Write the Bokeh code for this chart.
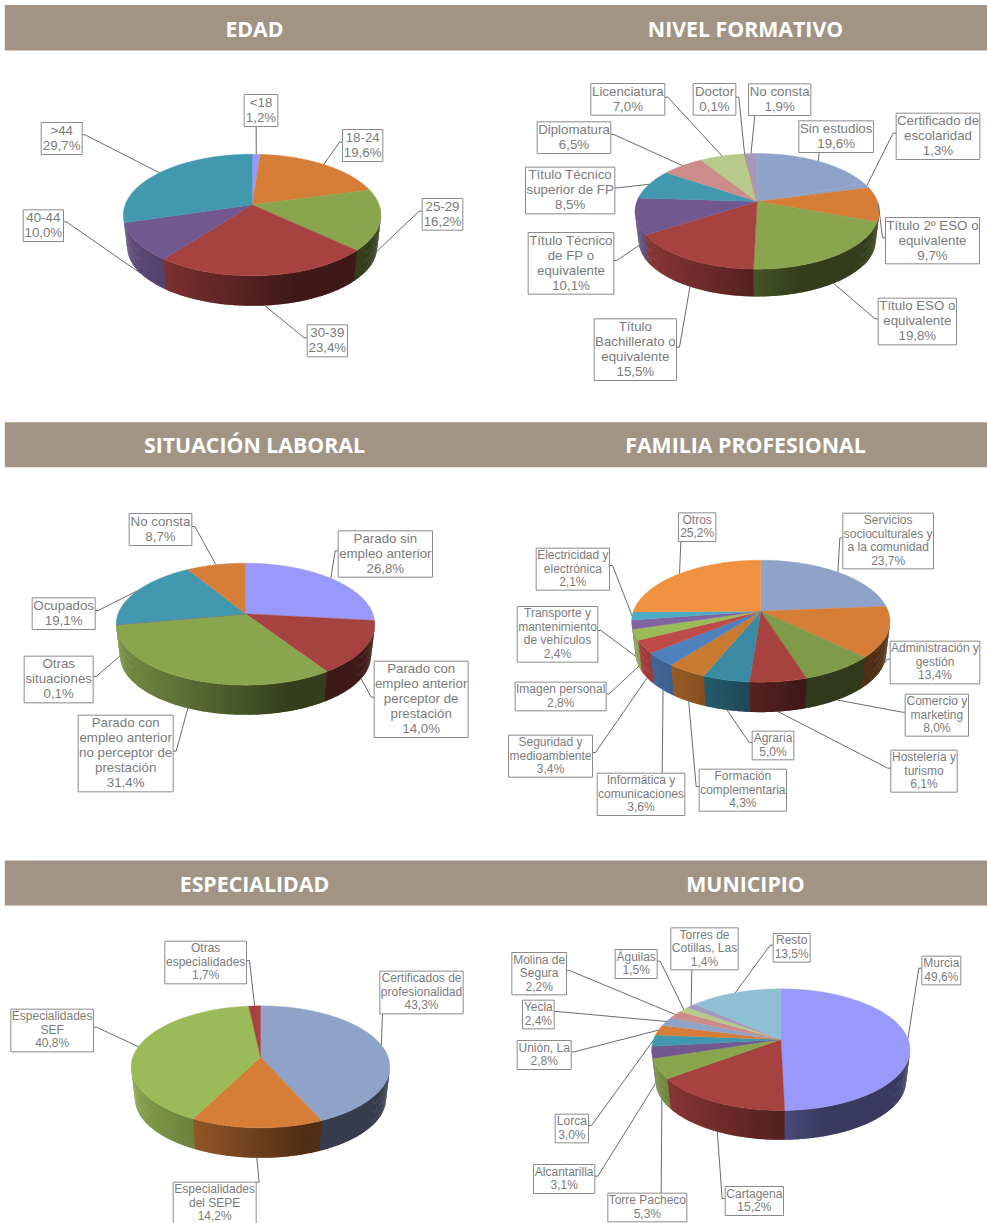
import math
from bokeh.plotting import figure
from bokeh.models import Range1d
from bokeh.core.properties import value
from bokeh.embed import file_html
from bokeh.resources import INLINE

# ---------- data ----------
edad_labels = ["<18", "18-24", "25-29", "30-39", "40-44", ">44"]
edad_values = [1.2, 19.6, 16.2, 23.4, 10.0, 29.7]

nivel_labels = ["Sin estudios", "Certificado de\nescolaridad", "Título 2º ESO o\nequivalente",
                "Título ESO o\nequivalente", "Título\nBachillerato o\nequivalente",
                "Título Técnico\nde FP o\nequivalente", "Título Técnico\nsuperior de FP",
                "Diplomatura", "Licenciatura", "Doctor", "No consta"]
nivel_values = [19.6, 1.3, 9.7, 19.8, 15.5, 10.1, 8.5, 6.5, 7.0, 0.1, 1.9]

situacion_labels = ["Parado sin\nempleo anterior", "Parado con\nempleo anterior\nperceptor de\nprestación",
                    "Parado con\nempleo anterior\nno perceptor de\nprestación", "Otras\nsituaciones",
                    "Ocupados", "No consta"]
situacion_values = [26.8, 14.0, 31.4, 0.1, 19.1, 8.7]

familia_labels = ["Servicios\nsocioculturales y\na la comunidad", "Administración y\ngestión",
                  "Comercio y\nmarketing", "Hostelería y\nturismo", "Agraria",
                  "Formación\ncomplementaria", "Informática y\ncomunicaciones",
                  "Seguridad y\nmedioambiente", "Imagen personal",
                  "Transporte y\nmantenimiento\nde vehículos", "Electricidad y\nelectrónica", "Otros"]
familia_values = [23.7, 13.4, 8.0, 6.1, 5.0, 4.3, 3.6, 3.4, 2.8, 2.4, 2.1, 25.2]

especialidad_labels = ["Certificados de\nprofesionalidad", "Especialidades\ndel SEPE",
                       "Especialidades\nSEF", "Otras\nespecialidades"]
especialidad_values = [43.3, 14.2, 40.8, 1.7]

municipio_labels = ["Murcia", "Cartagena", "Torre Pacheco", "Alcantarilla", "Lorca", "Unión, La",
                    "Yecla", "Molina de\nSegura", "Águilas", "Torres de\nCotillas, Las", "Resto"]
municipio_values = [49.6, 15.2, 5.3, 3.1, 3.0, 2.8, 2.4, 2.2, 1.5, 1.4, 13.5]

titles = ["EDAD", "NIVEL FORMATIVO", "SITUACIÓN LABORAL", "FAMILIA PROFESIONAL", "ESPECIALIDAD", "MUNICIPIO"]

# ---------- styles ----------
LAV, ORG, GRN, RED, PUR, TEA = "#9999FA", "#D67D38", "#89A54E", "#A64240", "#71588F", "#4198AF"
BLU, PNK, LGR, LLV = "#8FA3C8", "#CC8C8A", "#B7CA8C", "#A598BD"
edad_colors = [LAV, ORG, GRN, RED, PUR, TEA]
nivel_colors = [BLU, BLU, ORG, GRN, RED, PUR, TEA, PNK, LGR, "#C0604D", LLV]
situacion_colors = [LAV, RED, GRN, PUR, TEA, ORG]
familia_colors = [BLU, ORG, "#7F9A48", RED, "#3A8AA3", "#C97A32", "#4F81BD", "#BE4B48", "#9BBB59",
                  "#8064A2", "#4BACC6", "#F0923F"]
especialidad_colors = [BLU, ORG, "#9BBB59", RED]
municipio_colors = [LAV, RED, GRN, PUR, TEA, ORG, BLU, PNK, LGR, LLV, "#8FBFD3"]

# ---------- layout (all in 3x crop units relative to panel origin) ----------
# box = (x0, y0, x1, y1), attach = where the leader meets the box
panels = [
    dict(o=(0, 0), apex=(755, 613), top=461, bottom=826, left=368, right=1141, front=916, fs=13.3, ls=15,
         labels=edad_labels, values=edad_values, colors=edad_colors,
         boxes=[(731, 282, 832, 378), (1026, 387, 1147, 483), (1265, 594, 1387, 689),
                (920, 973, 1041, 1069), (68, 628, 189, 723), (122, 366, 245, 462)],
         attach=[(767, 378), (1026, 425), (1265, 632), (920, 1012), (189, 664), (245, 403)]),
    dict(o=(497, 0), apex=(779, 603), top=459, bottom=806, left=413, right=1146, front=888, fs=13.3, ls=15,
         labels=nivel_labels, values=nivel_values, colors=nivel_colors,
         boxes=[(904, 361, 1128, 456), (1196, 338, 1447, 477), (1164, 651, 1446, 790), (1142, 893, 1377, 1033),
                (290, 955, 537, 1140), (92, 696, 349, 881), (84, 500, 352, 640), (119, 364, 340, 459),
                (280, 249, 502, 344), (587, 249, 715, 344), (753, 250, 940, 345)],
         attach=[(965, 456), (1196, 398), (1164, 712), (1142, 955), (537, 1040), (349, 780), (352, 562),
                 (340, 402), (502, 290), (715, 290), (772, 345)]),
    dict(o=(0, 410), apex=(735, 610), top=458, bottom=824, left=347, right=1123, front=913, fs=13.3, ls=15,
         labels=situacion_labels, values=situacion_values, colors=situacion_colors,
         boxes=[(1013, 361, 1296, 500), (1121, 752, 1403, 981), (233, 914, 518, 1144), (71, 737, 278, 877),
                (95, 562, 284, 657), (386, 309, 574, 405)],
         attach=[(1013, 421), (1121, 860), (518, 1022), (278, 798), (284, 600), (574, 348)]),
    dict(o=(497, 410), apex=(790, 602), top=449, bottom=815, left=401, right=1176, front=905, fs=12, ls=13.5,
         labels=familia_labels, values=familia_values, colors=familia_colors,
         boxes=[(1036, 308, 1308, 475), (1178, 692, 1447, 820), (1223, 851, 1413, 977), (1180, 1019, 1379, 1145),
                (764, 962, 889, 1048), (605, 1076, 867, 1202), (299, 1088, 562, 1215), (33, 974, 285, 1100),
                (53, 815, 326, 901), (59, 588, 301, 755), (116, 413, 336, 539), (543, 307, 655, 393)],
         attach=[(1036, 382), (1178, 746), (1223, 905), (1180, 1073), (764, 996), (605, 1128), (494, 1088),
                 (285, 1026), (326, 850), (301, 660), (336, 465), (550, 393)]),
    dict(o=(0, 850), apex=(780, 620), top=466, bottom=832, left=392, right=1168, front=922, fs=12, ls=13.5,
         labels=especialidad_labels, values=especialidad_values, colors=especialidad_colors,
         boxes=[(1138, 362, 1388, 490), (518, 995, 767, 1123), (31, 476, 279, 604), (493, 272, 738, 400)],
         attach=[(1146, 490), (767, 995), (279, 530), (738, 330)]),
    dict(o=(497, 850), apex=(850, 567), top=415, bottom=780, left=462, right=1237, front=868, fs=12, ls=13.5,
         labels=municipio_labels, values=municipio_values, colors=municipio_colors,
         boxes=[(1273, 317, 1390, 403), (683, 1008, 858, 1095), (331, 1028, 568, 1114), (108, 942, 292, 1029),
                (173, 791, 273, 877), (59, 570, 221, 657), (75, 449, 170, 535), (43, 306, 207, 433),
                (353, 297, 479, 384), (520, 232, 722, 358), (827, 249, 938, 335)],
         attach=[(1273, 353), (683, 1044), (491, 1028), (292, 977), (273, 825), (221, 604), (170, 483),
                 (207, 360), (479, 332), (583, 358), (827, 284)]),
]
bands = [(4.5, 50), (421.7, 466.7), (860, 905)]
band_left = 4.3
title_pos = [(254, 27.5), (745, 27.5), (254, 444), (745, 444), (254, 882.5), (745, 882.5)]
BOTTOM_SCALE = 0.97
TEXT = "#7B7B7B"

p = figure(width=987, height=1223, output_backend="svg", toolbar_location=None,
           x_range=Range1d(0, 987), y_range=Range1d(1223, 0), min_border=0,
           x_axis_location=None, y_axis_location=None, outline_line_color=None,
           styles={"position": "absolute", "left": "0px", "top": "0px"})
p.grid.visible = False

# header bands
p.quad(left=[band_left] * 3, right=[987] * 3, top=[b[0] for b in bands], bottom=[b[1] for b in bands],
       fill_color="#A19485", line_color=None)
p.text(x=[t[0] for t in title_pos], y=[t[1] for t in title_pos], text=titles,
       text_color="white", text_font=value("Open Sans"), text_font_style="bold", text_font_size="21.3px",
       text_align="center", text_baseline="middle")


def shade(c, f):
    r, g, b = (int(c[i:i + 2], 16) for i in (1, 3, 5))
    return "#%02x%02x%02x" % (int(r * f), int(g * f), int(b * f))


for pan in panels:
    ox, oy = pan["o"]
    Z = lambda x, y: (ox + x / 3, oy + y / 3)
    ax, ay = Z(*pan["apex"])
    t = (pan["apex"][1] - pan["top"]) / 3
    b = (pan["bottom"] - pan["apex"][1]) / 3
    k = (b - t) / (b + t)
    S = t * (1 + k)
    half = (pan["right"] - pan["left"]) / 6
    R = half * math.sqrt(1 - k * k)
    D = (pan["front"] - pan["bottom"]) / 3 + b * (1 - BOTTOM_SCALE)

    def top_pt(a):
        u, v = math.sin(a), math.cos(a)
        d = 1 + k * v
        return ax + R * u / d, ay - S * v / d

    def bot_pt(a):
        u, v = math.sin(a), math.cos(a)
        d = 1 + k * v
        return ax + BOTTOM_SCALE * R * u / d, ay + D - BOTTOM_SCALE * S * v / d

    total = sum(pan["values"])
    edges = [0.0]
    for val in pan["values"]:
        edges.append(edges[-1] + val / total * 2 * math.pi)

    # side wall: only the front-facing part of the rim, as overlapping shaded strips painted left to right
    vis0 = math.acos(-k)
    vis1 = 2 * math.pi - vis0
    step = math.radians(1.0)
    strips = []
    for i, col in enumerate(pan["colors"]):
        a0, a1 = max(edges[i], vis0), min(edges[i + 1], vis1)
        if a1 <= a0:
            continue
        n = max(1, int((a1 - a0) / step))
        for j in range(n):
            s0 = a0 + (a1 - a0) * j / n
            s1 = a0 + (a1 - a0) * (j + 1) / n
            tt = (top_pt((s0 + s1) / 2)[0] - ax) / half
            f = max(0.38, 0.5 - 0.36 * tt)
            strips.append((s0, s1, shade(col, f), i))
    wx, wy, wc = [], [], []
    for s0, s1, c, i in sorted(strips, key=lambda q: -q[0]):  # left side first; each overlaps its right neighbour
        e0 = s0 - 0.6 * step if s0 - 0.6 * step >= vis0 else s0
        x0, y0 = top_pt(s1); x1, y1 = top_pt(e0)
        x2, y2 = bot_pt(e0); x3, y3 = bot_pt(s1)
        wx.append([x0, x1, x2, x3]); wy.append([y0, y1, y2, y3]); wc.append(c)
    p.patches(wx, wy, fill_color=wc, line_color=None)

    # top face
    fx, fy = [], []
    for i in range(len(pan["values"])):
        a0, a1 = edges[i], edges[i + 1]
        n = max(2, int((a1 - a0) / math.radians(1)))
        pts = [top_pt(a0 + (a1 - a0) * j / n) for j in range(n + 1)]
        fx.append([ax] + [q[0] for q in pts]); fy.append([ay] + [q[1] for q in pts])
    p.patches(fx, fy, fill_color=pan["colors"], line_color=pan["colors"], line_width=0.4)

    # leaders, boxes, text
    lx, ly, ql, qr, qt, qb, tx, ty, ts = [], [], [], [], [], [], [], [], []
    for i, (lab, val) in enumerate(zip(pan["labels"], pan["values"])):
        mid = (edges[i] + edges[i + 1]) / 2
        anchor = bot_pt(mid) if math.cos(mid) < -0.1 else top_pt(mid)
        x0, y0, x1, y1 = pan["boxes"][i]
        ex, ey = pan["attach"][i]
        e = Z(ex, ey)
        path = [anchor]
        if ex == x0:
            path.append((e[0] - 3, e[1]))
        elif ex == x1:
            path.append((e[0] + 3, e[1]))
        path.append(e)
        lx.append([q[0] for q in path]); ly.append([q[1] for q in path])
        bl, bt = Z(x0, y0)
        br, bb = Z(x1, y1)
        ql.append(bl); qr.append(br); qt.append(bt); qb.append(bb)
        lines = lab.split("\n") + [f"{val:.1f}".replace(".", ",") + "%"]
        cy = (bt + bb) / 2 - 0.6
        for n, line in enumerate(lines):
            tx.append((bl + br) / 2)
            ty.append(cy + (n - (len(lines) - 1) / 2) * pan["ls"])
            ts.append(line)
    p.multi_line(lx, ly, line_color="#6A6A6A", line_width=1)
    p.quad(left=ql, right=qr, top=qt, bottom=qb, fill_color="white", line_color="#8A8A8A", line_width=1)
    p.text(x=tx, y=ty, text=ts, text_color=TEXT, text_font=value("Liberation Sans"),
           text_font_size=f'{pan["fs"]}px', text_align="center", text_baseline="middle")

open("out.html", "w").write(file_html(p, INLINE))
